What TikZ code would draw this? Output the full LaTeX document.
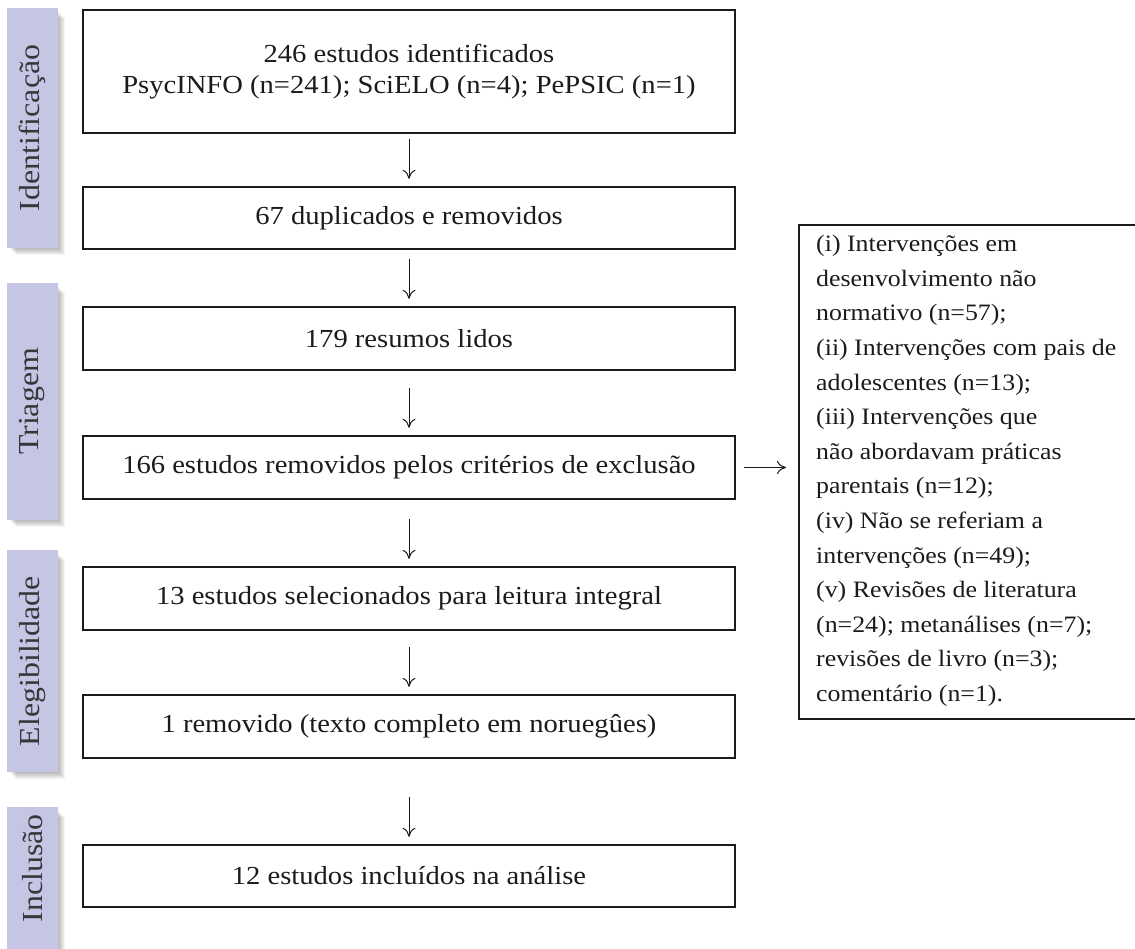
\documentclass[tikz,border=0pt]{standalone}
\usepackage{fontspec}
\setmainfont{Liberation Serif}[FakeStretch=1.1]
\usetikzlibrary{arrows.meta}
\definecolor{ink}{RGB}{28,26,27}
\definecolor{barfill}{RGB}{197,197,228}
\definecolor{bartext}{RGB}{55,55,58}
\begin{document}
\begin{tikzpicture}[x=1pt,y=-1pt,
  flowbox/.style={draw=ink,line width=2.4pt,minimum width=652pt,inner sep=0pt,align=center,text=ink,font=\fontsize{26}{31}\selectfont},
  flowarrow/.style={draw=ink,line width=1pt,-{To[length=9pt,width=13pt]}},
  phasebar/.style={fill=barfill,rotate=90,minimum height=51pt,inner sep=0pt,text=bartext,font=\fontsize{29}{30}\selectfont},
  phaselabel/.style={rotate=90,inner sep=0pt,text=bartext,font=\fontsize{29}{30}\selectfont},
  shadowlayer/.style={fill=black,opacity=0.045}]
\useasboundingbox (0,0) rectangle (1135,949);

% soft shadows of the phase bars
\foreach \t/\b in {8/248, 283/520, 550/772, 807/975}{
  \foreach \i in {1,...,7}{
    \fill[shadowlayer] (9+\i,\t+3+\i) rectangle (58+\i,\b+\i);
  }
}

% phase bars
\node[phasebar,minimum width=240pt] (p1) at (32.5,128) {Identifica\c{c}\~ao};
\node[phasebar,minimum width=237pt] (p2) at (32.5,401.5) {Triagem};
\node[phasebar,minimum width=222pt] (p3) at (32.5,661) {Elegibilidade};
\fill[barfill] (7,807) rectangle (58,975);
\node[phaselabel] (p4) at (32.5,868.5) {Inclus\~ao};

% flow boxes
\node[flowbox,minimum height=123pt] (b1) at (409,71.5) {246 estudos identificados\\PsycINFO (n=241); SciELO (n=4); PePSIC (n=1)};
\node[flowbox,minimum height=62pt] (b2) at (409,218) {67 duplicados e removidos};
\node[flowbox,minimum height=63pt] (b3) at (409,338.5) {179 resumos lidos};
\node[flowbox,minimum height=63pt] (b4) at (409,467.5) {166 estudos removidos pelos crit\'erios de exclus\~ao};
\node[flowbox,minimum height=63pt] (b5) at (409,598.5) {13 estudos selecionados para leitura integral};
\node[flowbox,minimum height=63pt] (b6) at (409,726.5) {1 removido (texto completo em norueg\^ues)};
\node[flowbox,minimum height=62pt] (b7) at (409,876) {12 estudos inclu\'{\i}dos na an\'alise};

% exclusion box
\node[draw=ink,line width=2.4pt,minimum width=337pt,minimum height=494pt,inner sep=0pt,anchor=north west] (rb) at (798,224) {};
\node[anchor=west,align=left,inner sep=0pt,text=ink,font=\fontsize{23.5}{34.6}\selectfont] (rt) at (816,471) {%
(i) Interven\c{c}\~oes em\\
desenvolvimento n\~ao\\
normativo (n=57);\\
(ii) Interven\c{c}\~oes com pais de\\
adolescentes (n=13);\\
(iii) Interven\c{c}\~oes que\\
n\~ao abordavam pr\'aticas\\
parentais (n=12);\\
(iv) N\~ao se referiam a\\
interven\c{c}\~oes (n=49);\\
(v) Revis\~oes de literatura\\
(n=24); metan\'alises (n=7);\\
revis\~oes de livro (n=3);\\
coment\'ario (n=1).};

% connectors
\draw[flowarrow,shorten <=5pt,shorten >=7pt] (b1.south) -- (b2.north);
\draw[flowarrow,shorten <=9pt,shorten >=7pt] (b2.south) -- (b3.north);
\draw[flowarrow,shorten <=17pt,shorten >=7pt] (b3.south) -- (b4.north);
\draw[flowarrow,shorten <=19pt,shorten >=7pt] (b4.south) -- (b5.north);
\draw[flowarrow,shorten <=16pt,shorten >=7pt] (b5.south) -- (b6.north);
\draw[flowarrow,shorten <=38pt,shorten >=7pt] (b6.south) -- (b7.north);
\draw[flowarrow,shorten <=8pt,shorten >=12pt] (b4.east) -- (b4.east -| rb.west);
\end{tikzpicture}
\end{document}
